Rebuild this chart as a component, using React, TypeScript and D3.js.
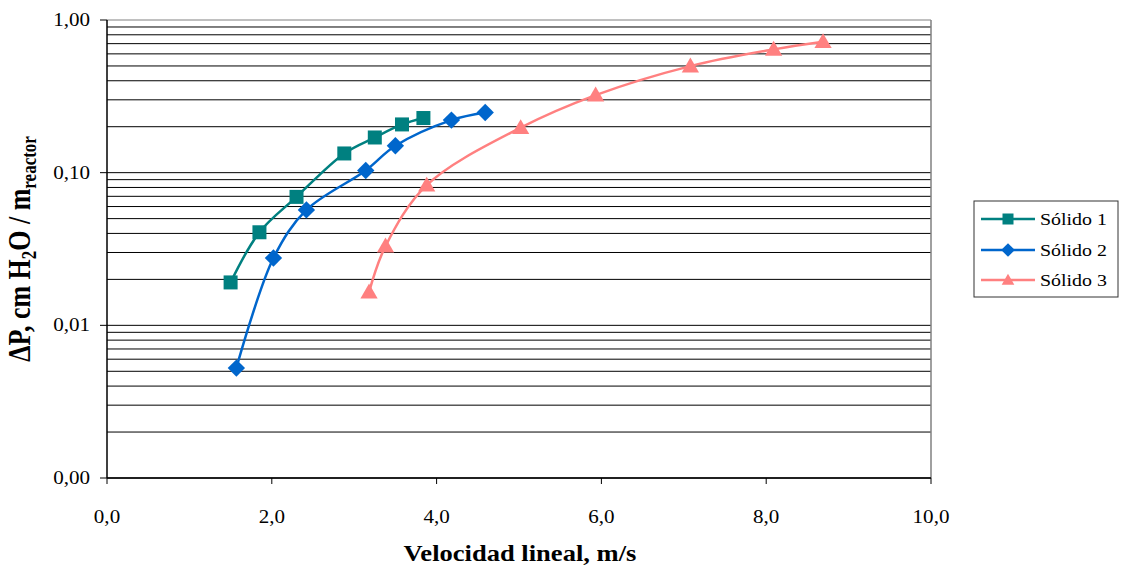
import React from 'react';
import * as d3 from 'd3';

// Velocidad lineal (m/s) and ΔP values
const solido1X = [1.5, 1.85, 2.3, 2.88, 3.25, 3.58, 3.84];
const solido1Y = [0.0191, 0.0407, 0.0694, 0.1336, 0.170, 0.207, 0.228];
const solido2X = [1.57, 2.02, 2.42, 3.14, 3.5, 4.18, 4.59];
const solido2Y = [0.00525, 0.0276, 0.057, 0.1034, 0.150, 0.221, 0.248];
const solido3X = [3.18, 3.38, 3.88, 5.02, 5.93, 7.08, 8.09, 8.69];
const solido3Y = [0.0165, 0.033, 0.0828, 0.197, 0.322, 0.499, 0.642, 0.721];

const seriesNames = ['Sólido 1', 'Sólido 2', 'Sólido 3'];
const seriesColors = ['#008080', '#0066CC', '#FF8080'];
const xTicks = [0, 2, 4, 6, 8, 10];
const yTicks = [0.001, 0.01, 0.1, 1];

const W = 1123;
const H = 567;
const left = 107, right = 931, top = 20, bottom = 478;
const font = 'Times New Roman, Liberation Serif, Tinos, Times, serif';
const SX = 1.17; // text in the source looks stretched sideways

const fmt = (v: number, d: number) => v.toFixed(d).replace('.', ',');

function Marker({ kind, x, y, color, s }: { kind: number; x: number; y: number; color: string; s: number }) {
  if (kind === 0) return <rect x={x - s / 2} y={y - s / 2} width={s} height={s} fill={color} />;
  if (kind === 1) {
    const r = s * 0.62;
    return <path d={`M${x},${y - r}L${x + r},${y}L${x},${y + r}L${x - r},${y}Z`} fill={color} />;
  }
  const w = s * 1.15, h = s * 0.95;
  return <path d={`M${x},${y - h * 0.6}L${x + w / 2},${y + h * 0.45}L${x - w / 2},${y + h * 0.45}Z`} fill={color} />;
}

export default function App() {
  const x = d3.scaleLinear().domain([0, 10]).range([left, right]);
  const y = d3.scaleLog().domain([0.001, 1]).range([bottom, top]);

  const series = [
    d3.zip(solido1X, solido1Y),
    d3.zip(solido2X, solido2Y),
    d3.zip(solido3X, solido3Y),
  ];

  const line = d3
    .line<number[]>()
    .x((d) => x(d[0]))
    .y((d) => y(d[1]))
    .curve(d3.curveCatmullRom.alpha(0.5));

  // horizontal grid at every 1..9 step of each decade
  const grid: number[] = [];
  for (let e = -3; e < 0; e++) {
    for (let m = 1; m <= 9; m++) grid.push(m * Math.pow(10, e));
  }
  grid.push(1);

  const sizes = [14, 14, 15];
  const legendRows = [219, 250, 280];

  return (
    <svg width={W} height={H} style={{ position: 'absolute', left: 0, top: 0, background: '#fff' }}>
      <rect width={W} height={H} fill="#fff" />

      {grid.map((g, i) => (
        <line key={i} x1={left} x2={right} y1={y(g)} y2={y(g)} stroke={g === 1 ? '#808080' : '#000'} strokeWidth={1} />
      ))}
      <line x1={right} x2={right} y1={top} y2={bottom} stroke="#808080" strokeWidth={1.5} />
      <line x1={left} x2={left} y1={top} y2={bottom} stroke="#000" strokeWidth={1.5} />
      <line x1={left} x2={right} y1={bottom} y2={bottom} stroke="#000" strokeWidth={1.5} />

      {yTicks.map((t) => (
        <g key={t}>
          <line x1={left - 7} x2={left} y1={y(t)} y2={y(t)} stroke="#000" />
          <text transform={`translate(${left - 17},${y(t) + 6}) scale(${SX},1)`} textAnchor="end" fontFamily={font} fontSize={18}>
            {fmt(t, 2)}
          </text>
        </g>
      ))}
      {xTicks.map((t) => (
        <g key={t}>
          <line x1={x(t)} x2={x(t)} y1={bottom} y2={bottom + 6} stroke="#000" />
          <text transform={`translate(${x(t)},${bottom + 45}) scale(${SX},1)`} textAnchor="middle" fontFamily={font} fontSize={18}>
            {fmt(t, 1)}
          </text>
        </g>
      ))}

      <text transform={`translate(520,561) scale(1.13,1)`} textAnchor="middle" fontFamily={font} fontSize={23.5} fontWeight="bold">
        Velocidad lineal, m/s
      </text>
      <text transform={`translate(30,249) scale(1.2,1) rotate(-90)`} textAnchor="middle" fontFamily={font} fontSize={26} fontWeight="bold">
        ΔP, cm H<tspan fontSize={17} dy={5}>2</tspan>
        <tspan dy={-5}>O / m</tspan>
        <tspan fontSize={17} dy={5}>reactor</tspan>
      </text>

      {series.map((pts, i) => (
        <g key={i}>
          <path d={line(pts) || ''} fill="none" stroke={seriesColors[i]} strokeWidth={2.5} />
          {pts.map((p, j) => (
            <Marker key={j} kind={i} x={x(p[0])} y={y(p[1])} color={seriesColors[i]} s={sizes[i]} />
          ))}
        </g>
      ))}

      <rect x={974} y={201} width={144} height={96} fill="#fff" stroke="#333" strokeWidth={1} />
      {seriesNames.map((n, i) => (
        <g key={n}>
          <line x1={981} x2={1035} y1={legendRows[i]} y2={legendRows[i]} stroke={seriesColors[i]} strokeWidth={2.5} />
          <Marker kind={i} x={1008} y={legendRows[i]} color={seriesColors[i]} s={11} />
          <text transform={`translate(1040,${legendRows[i] + 6}) scale(${SX},1)`} fontFamily={font} fontSize={17}>
            {n}
          </text>
        </g>
      ))}
    </svg>
  );
}
